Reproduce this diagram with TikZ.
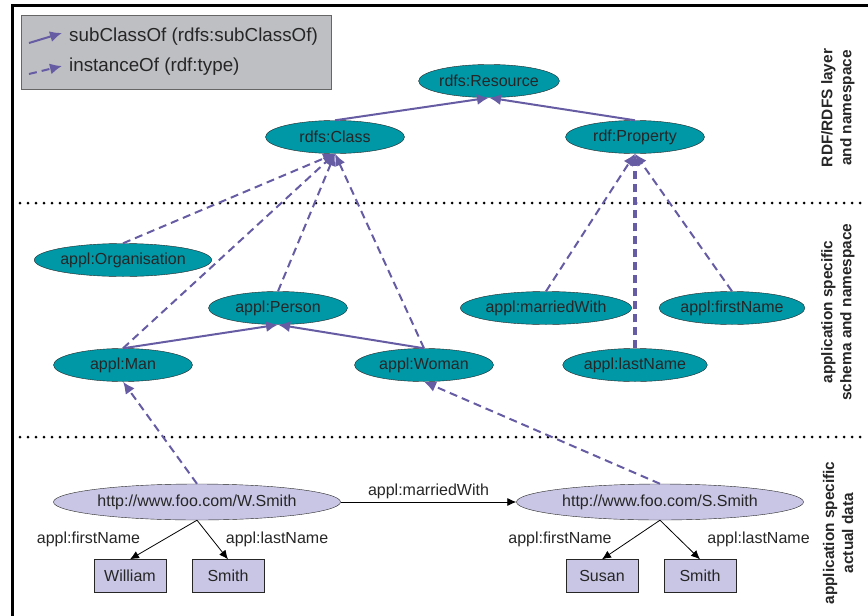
\documentclass[tikz,border=0pt]{standalone}
\usepackage{fontspec}
\setmainfont{Liberation Sans}
\usetikzlibrary{arrows.meta,shapes.geometric}
\definecolor{rdfteal}{RGB}{0,151,167}
\definecolor{datalav}{RGB}{200,198,228}
\definecolor{keygray}{RGB}{190,191,195}
\definecolor{relpurple}{RGB}{102,92,164}

\begin{document}
\begin{tikzpicture}[
    x=1pt,y=-1pt,
    font=\fontsize{16}{18}\selectfont,
    base/.style={ellipse,draw=black!85,thin,inner sep=0pt,text=black!85},
    A/.style={base,fill=rdfteal,minimum width=139pt,minimum height=33pt},
    B/.style={base,fill=datalav,minimum width=287pt,minimum height=36pt},
    lit/.style={rectangle,draw=black!85,thin,fill=datalav,minimum width=72pt,minimum height=33pt,text=black!85},
    sub/.style={-{Latex[length=12pt,width=11pt]},relpurple,line width=2pt},
    typ/.style={sub,dash pattern=on 8pt off 5pt},
    rel/.style={-{Latex[length=9pt,width=8pt]},black,line width=.8pt},
    edgenode/.style={inner sep=1pt,text=black!85},
    keynode/.style={anchor=west,inner sep=0pt,text=black!85,font=\fontsize{18.8}{20}\selectfont},
    sepline/.style={line width=3pt,line cap=round,dash pattern=on 0pt off 8pt},
    labelnode/.style={rotate=90,align=center,text=black!85,font=\fontsize{15.4}{19}\selectfont\bfseries},
    ]
    \useasboundingbox (0,0) rectangle (868,616);
    % frame and layer borders
    \draw[line width=3pt] (12,616) -- (12,5.5) -- (868,5.5);
    \draw[sepline] (20,203) -- (866,203);
    \draw[sepline] (20,437) -- (866,437);

    % key
    \node[draw=black!60,fill=keygray,minimum width=310pt,minimum height=74pt,inner sep=0pt] (key) at (176,52) {};
    \coordinate (k1a) at (29,43);
    \coordinate (k1b) at (62,33);
    \coordinate (k2a) at (29,74);
    \coordinate (k2b) at (62,66);
    \draw[sub] (k1a) -- (k1b);
    \draw[typ] (k2a) -- (k2b);
    \node[keynode] (k1) at (69,37) {subClassOf (rdfs:subClassOf)};
    \node[keynode] (k2) at (69,67) {instanceOf (rdf:type)};

    \node[A] (R) at (489,81) {rdfs:Resource};
    \node[A] (C) at (335,137) {rdfs:Class};
    \node[A] (P) at (635,137) {rdf:Property};
    \node[A] (O) at (123,260) {appl:Organisation};
    \node[A] (Pe) at (278,308) {appl:Person};
    \node[A] (M) at (123,365) {appl:Man};
    \node[A] (W) at (424,365) {appl:Woman};
    \node[A] (MW) at (546,308) {appl:marriedWith};
    \node[A] (FN) at (732,308) {appl:firstName};
    \node[A] (LN) at (635,365) {appl:lastName};
    \node[B] (WS) at (197,502) {http://www.foo.com/W.Smith};
    \node[B] (SS) at (660,502) {http://www.foo.com/S.Smith};
    \node[lit] (WF) at (130,576) {William};
    \node[lit] (WL) at (228,576) {Smith};
    \node[lit] (SF) at (602,576) {Susan};
    \node[lit] (SL) at (700,576) {Smith};

    \path 
        (C.north) edge[sub] (R.south)
        (P.north) edge[sub] (R.south)
        (M.north) edge[sub] (Pe.south)
        (W.north) edge[sub] (Pe.south)
    ;
    \path 
        (O.north) edge[typ] (C.south)
        (M.north) edge[typ] (C.south)
        (Pe.north) edge[typ] (C.south)
        (W.north) edge[typ] (C.south)
        (MW.north) edge[typ] (P.south)
        (LN.north) edge[typ,line width=3.5pt] (P.south)
        (FN.north) edge[typ] (P.south)
        (WS.north) edge[typ] (M.south)
        (SS.north) edge[typ] (W.south)
    ;
    \path (WS.east) 
        edge[rel] node[edgenode,above=2pt] {appl:marriedWith} (SS.west);
    \path (WS.south) 
        edge[rel] node[edgenode,midway,left=22pt] {appl:firstName} (WF.north)
        edge[rel] node[edgenode,midway,right=12pt] {appl:lastName} (WL.north)
        ;
    \path (SS.south) 
        edge[rel] node[edgenode,midway,left=18pt] {appl:firstName} (SF.north)
        edge[rel] node[edgenode,midway,right=26pt] {appl:lastName} (SL.north)
        ;

    \node[labelnode] (L1) at (838,108) {RDF/RDFS layer\\and namespace};
    \node[labelnode] (L2) at (838,312) {application specific\\schema and namespace};
    \node[labelnode] (L3) at (838,533) {application specific\\actual data};
\end{tikzpicture}
\end{document}
